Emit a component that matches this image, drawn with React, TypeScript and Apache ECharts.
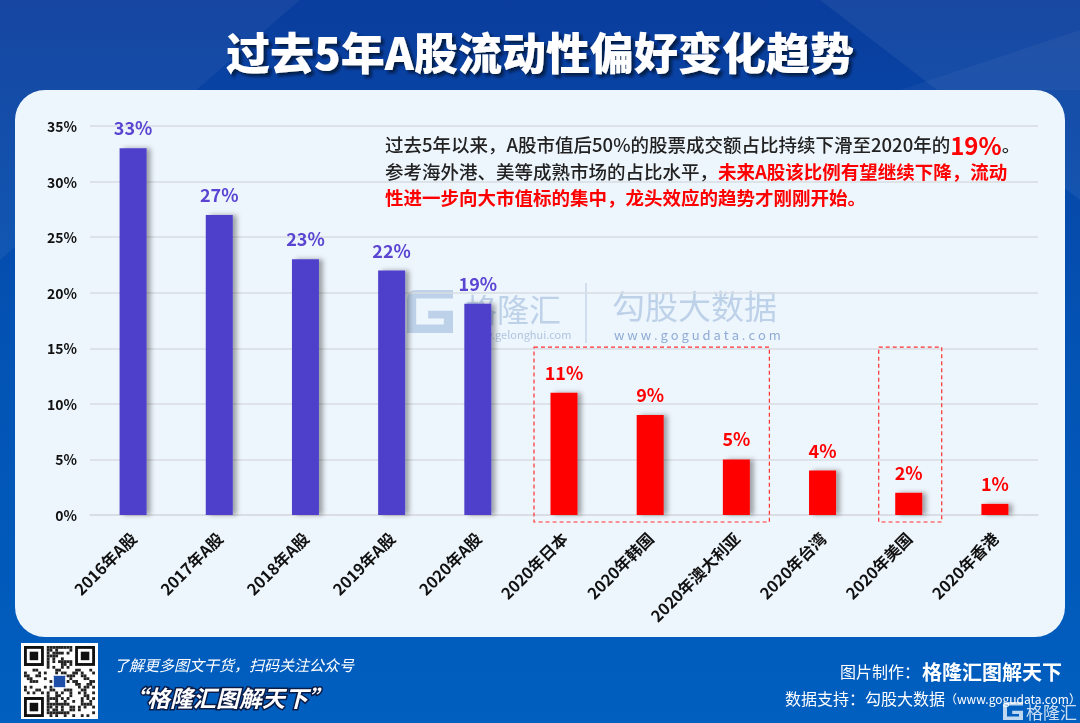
import React, { useEffect, useRef } from "react";
import * as echarts from "echarts";

const categories = [
  "2016年A股", "2017年A股", "2018年A股", "2019年A股", "2020年A股",
  "2020年日本", "2020年韩国", "2020年澳大利亚", "2020年台湾", "2020年美国", "2020年香港",
];
const values = [33, 27, 23, 22, 19, 11, 9, 5, 4, 2, 1];
const yMin = 0;
const yMax = 35;
const yInterval = 5;
const boxedRanges = [
  ["2020年日本", "2020年澳大利亚"],
  ["2020年美国", "2020年美国"],
];
const boxTopValue = 15.1;

const PURPLE = "#503fcb";
const PURPLE_LABEL = "#5a45d2";
const RED = "#ff0000";
const FONT = "'Noto Sans CJK SC', 'Noto Sans', sans-serif";

function qrModules() {
  const n = 25;
  const mods: number[][] = [];
  const inFinder = (i: number, j: number) =>
    (i < 8 && j < 8) || (i < 8 && j >= n - 8) || (i >= n - 8 && j < 8);
  for (let i = 0; i < n; i++) {
    for (let j = 0; j < n; j++) {
      if (inFinder(i, j)) continue;
      if (i >= 10 && i <= 14 && j >= 10 && j <= 14) continue;
      if ((i * 31 + j * 17 + i * j * 7 + ((i ^ j) * 3)) % 5 < 2) mods.push([i, j]);
    }
  }
  return mods;
}

export default function App() {
  const ref = useRef<HTMLDivElement>(null);
  useEffect(() => {
    const el = ref.current!;
    const chart = echarts.init(el, undefined, { renderer: "svg" });
    chart.setOption({
      animation: false,
      title: {
        text: "过去5年A股流动性偏好变化趋势",
        left: "center",
        top: 24,
        textStyle: {
          color: "#ffffff",
          fontSize: 44,
          fontWeight: 900,
          fontFamily: FONT,
          textShadowColor: "rgba(0,10,40,0.75)",
          textShadowOffsetX: 3,
          textShadowOffsetY: 3,
          textShadowBlur: 3,
        },
      },
      grid: { left: 90, right: 42, top: 126, bottom: 208, containLabel: false },
      xAxis: {
        type: "category",
        data: categories,
        axisLine: { show: true, lineStyle: { color: "#d8dce2", width: 1.5 } },
        axisTick: { show: false },
        axisLabel: {
          rotate: 45,
          margin: 20,
          interval: 0,
          color: "#111111",
          fontSize: 16,
          fontWeight: "bold",
          fontFamily: FONT,
        },
      },
      yAxis: {
        type: "value",
        min: yMin,
        max: yMax,
        interval: yInterval,
        axisLine: { show: false },
        axisTick: { show: false },
        splitLine: { lineStyle: { color: "#d8dce2", width: 1.5 } },
        axisLabel: {
          formatter: "{value}%",
          margin: 13,
          color: "#111111",
          fontSize: 14,
          fontWeight: "bold",
          fontFamily: FONT,
        },
      },
      series: [
        {
          type: "bar",
          barWidth: 27,
          z: 3,
          data: values.map((v, i) => {
            const isA = categories[i].includes("A股");
            return {
              value: v,
              itemStyle: { color: isA ? PURPLE : RED },
              label: { color: isA ? PURPLE_LABEL : RED },
            };
          }),
          itemStyle: {
            shadowColor: "rgba(0,0,0,0.35)",
            shadowBlur: 5,
            shadowOffsetX: 4,
            shadowOffsetY: 0,
          },
          label: {
            show: true,
            position: "top",
            distance: 12,
            formatter: "{c}%",
            fontSize: 18,
            fontWeight: "bold",
            fontFamily: FONT,
          },
        },
      ],
    });

    const px = (c: string) => chart.convertToPixel({ xAxisIndex: 0 }, c) as number;
    const py = (v: number) => chart.convertToPixel({ yAxisIndex: 0 }, v) as number;

    const boxes = boxedRanges.map(([a, b], k) => {
      const x1 = px(a) - 30;
      const x2 = px(b) + 33;
      const y1 = py(boxTopValue);
      const y2 = py(0) + 7;
      return {
        type: "rect",
        id: "box" + k,
        z: 10,
        shape: { x: x1, y: y1, width: x2 - x1, height: y2 - y1 },
        style: { fill: "none", stroke: "#ff3030", lineWidth: 1.2, lineDash: [4, 3] },
      };
    });

    echarts.graphic.registerShape(
      "glogo",
      echarts.graphic.extendPath(
        "M0 22 Q0 0 22 0 L100 0 L100 20 L20 20 L20 80 L80 80 L80 66 L46 66 L46 48 L100 48 L100 100 L0 100 Z",
        {}
      )
    );

    const qr: any[] = [
      { type: "rect", z: 5, shape: { x: 21, y: 643, width: 77, height: 76 }, style: { fill: "#ffffff" } },
    ];
    const m = 2.84;
    const ox = 24, oy = 646;
    const finders = [[0, 0], [0, 18], [18, 0]];
    finders.forEach(([r, c]) => {
      qr.push({ type: "rect", z: 6, shape: { x: ox + c * m, y: oy + r * m, width: 7 * m, height: 7 * m }, style: { fill: "#111" } });
      qr.push({ type: "rect", z: 6, shape: { x: ox + (c + 1) * m, y: oy + (r + 1) * m, width: 5 * m, height: 5 * m }, style: { fill: "#fff" } });
      qr.push({ type: "rect", z: 6, shape: { x: ox + (c + 2) * m, y: oy + (r + 2) * m, width: 3 * m, height: 3 * m }, style: { fill: "#111" } });
    });
    qrModules().forEach(([i, j]) => {
      qr.push({ type: "rect", z: 6, shape: { x: ox + j * m, y: oy + i * m, width: m, height: m }, style: { fill: "#222" } });
    });
    qr.push({ type: "rect", z: 7, shape: { x: ox + 10.3 * m, y: oy + 10.3 * m, width: 4.4 * m, height: 4.4 * m, r: 1 }, style: { fill: "#1e4fa8", stroke: "#fff", lineWidth: 1 } });

    const wmColor = "rgba(150,178,215,0.55)";

    chart.setOption({
      graphic: [
        {
          type: "rect",
          z: -30,
          silent: true,
          shape: { x: 0, y: 0, width: 1080, height: 723 },
          style: {
            fill: {
              type: "linear", x: 0, y: 0, x2: 0, y2: 1,
              colorStops: [
                { offset: 0, color: "#0a3d9d" },
                { offset: 0.45, color: "#0352b3" },
                { offset: 1, color: "#005fbf" },
              ],
            },
          },
        },
        { type: "polygon", z: -29, silent: true, shape: { points: [[0, 0], [300, 0], [0, 260]] }, style: { fill: "rgba(255,255,255,0.05)" } },
        { type: "polygon", z: -29, silent: true, shape: { points: [[820, 0], [1080, 0], [1080, 200]] }, style: { fill: "rgba(255,255,255,0.06)" } },
        { type: "polygon", z: -29, silent: true, shape: { points: [[1080, 30], [1080, 90], [900, 90]] }, style: { fill: "rgba(255,255,255,0.04)" } },
        {
          type: "rect",
          z: -20,
          silent: true,
          shape: { x: 15, y: 90, width: 1050, height: 547, r: 30 },
          style: { fill: "#eef6fd" },
        },
        // watermark
        { type: "glogo", z: -10, x: 407, y: 290, scaleX: 0.46, scaleY: 0.43, style: { fill: wmColor } },
        { type: "text", z: -10, x: 465, y: 308, style: { text: "格隆汇", fill: wmColor, font: `32px ${FONT}`, verticalAlign: "middle" } },
        { type: "text", z: -10, x: 466, y: 334, style: { text: "www.gelonghui.com", fill: "rgba(150,175,212,0.7)", font: `11px ${FONT}`, verticalAlign: "middle" } },
        { type: "line", z: -10, shape: { x1: 586, y1: 283, x2: 586, y2: 343 }, style: { stroke: "rgba(160,185,220,0.5)", lineWidth: 1.5 } },
        { type: "text", z: -10, x: 612, y: 305, style: { text: "勾股大数据", fill: wmColor, font: `33px ${FONT}`, verticalAlign: "middle" } },
        { type: "text", z: -10, x: 614, y: 334, style: { text: "w w w . g o g u d a t a . c o m", fill: "rgba(110,145,200,0.75)", font: `13px ${FONT}`, verticalAlign: "middle" } },
        // annotation
        {
          type: "text", z: 20, x: 385, y: 144,
          style: {
            text: "{a|过去5年以来，A股市值后50%的股票成交额占比持续下滑至2020年的}{r|19%}{a|。}",
            verticalAlign: "middle",
            rich: {
              a: { fontSize: 18.5, fontWeight: 500, fill: "#222222", fontFamily: FONT },
              r: { fontSize: 24, fontWeight: "bold", fill: RED, fontFamily: FONT },
            },
          },
        },
        {
          type: "text", z: 20, x: 385, y: 171,
          style: {
            text: "{a|参考海外港、美等成熟市场的占比水平，}{r|未来A股该比例有望继续下降，流动}",
            verticalAlign: "middle",
            rich: {
              a: { fontSize: 18.5, fontWeight: 500, fill: "#222222", fontFamily: FONT },
              r: { fontSize: 18.5, fontWeight: "bold", fill: RED, fontFamily: FONT },
            },
          },
        },
        {
          type: "text", z: 20, x: 385, y: 197,
          style: {
            text: "性进一步向大市值标的集中，龙头效应的趋势才刚刚开始。",
            verticalAlign: "middle",
            fill: RED,
            font: `bold 18.5px ${FONT}`,
          },
        },
        ...boxes,
        // footer
        ...qr,
        { type: "text", z: 5, x: 114, y: 664, style: { text: "了解更多图文干货，扫码关注公众号", fill: "#ffffff", font: `italic 15px ${FONT}`, verticalAlign: "middle" } },
        {
          type: "text", z: 5, x: 124, y: 697,
          style: {
            text: "“格隆汇图解天下”", fill: "#ffffff", font: `italic bold 23px ${FONT}`, verticalAlign: "middle",
            stroke: "#0b1b45", lineWidth: 3,
          },
        },
        { type: "text", z: 5, x: 840, y: 671, style: { text: "图片制作：", fill: "#ffffff", font: `16px ${FONT}`, verticalAlign: "middle" } },
        { type: "text", z: 5, x: 922, y: 671, style: { text: "格隆汇图解天下", fill: "#ffffff", font: `bold 20px ${FONT}`, verticalAlign: "middle" } },
        {
          type: "text", z: 5, x: 785, y: 698,
          style: {
            text: "{a|数据支持：勾股大数据}{b|（www.gogudata.com）}",
            verticalAlign: "middle",
            rich: {
              a: { fontSize: 16, fill: "#ffffff", fontFamily: FONT },
              b: { fontSize: 12, fill: "#ffffff", fontFamily: FONT },
            },
          },
        },
        { type: "glogo", z: 8, x: 1003, y: 702, scaleX: 0.2, scaleY: 0.18, style: { fill: "rgba(255,255,255,0.75)" } },
        { type: "text", z: 8, x: 1026, y: 711, style: { text: "格隆汇", fill: "rgba(255,255,255,0.8)", font: `17px ${FONT}`, verticalAlign: "middle" } },
      ],
    });

    return () => chart.dispose();
  }, []);
  return (
    <div
      ref={ref}
      style={{ position: "fixed", left: 0, top: 0, width: 1080, height: 723 }}
    />
  );
}
